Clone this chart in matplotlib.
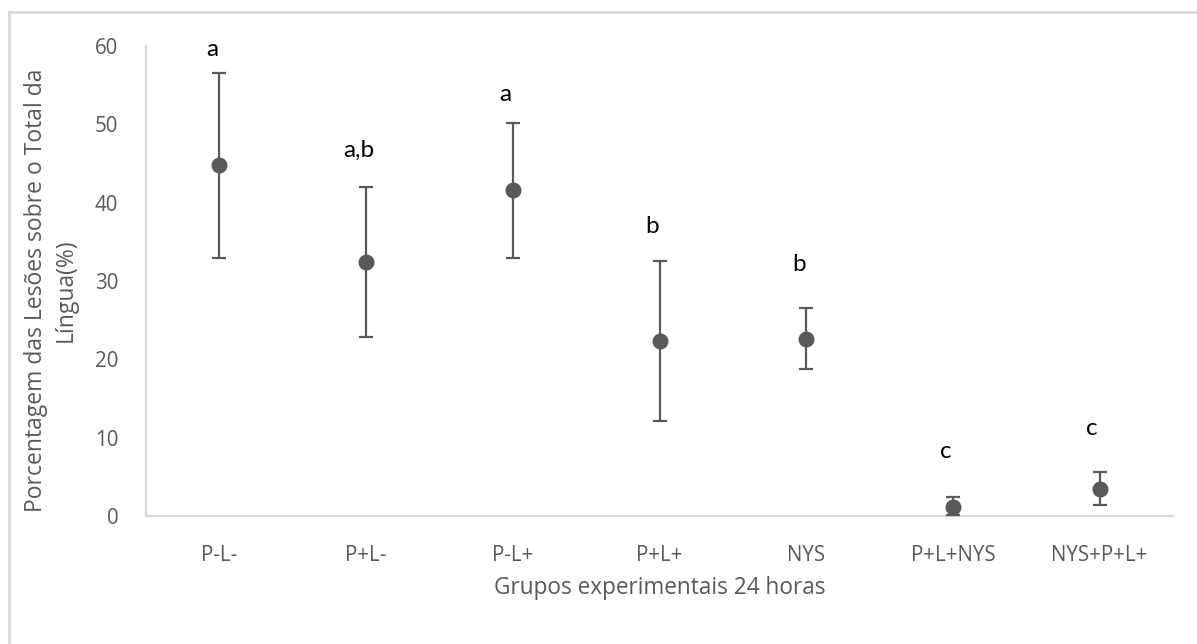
import matplotlib
matplotlib.use("Agg")
import matplotlib.pyplot as plt
from matplotlib.lines import Line2D

groups = ["P-L-", "P+L-", "P-L+", "P+L+", "NYS", "P+L+NYS", "NYS+P+L+"]
means = [44.8, 32.4, 41.6, 22.3, 22.6, 1.2, 3.4]
upper = [56.6, 42.0, 50.2, 32.6, 26.6, 2.4, 5.6]
lower = [32.9, 22.8, 32.9, 12.1, 18.8, 0.1, 1.4]
letters = ["a", "a,b", "a", "b", "b", "c", "c"]
letter_y = [59.5, 46.7, 53.8, 36.9, 32.1, 8.2, 11.2]

dark = "#595959"
light = "#d9d9d9"

fig = plt.figure(figsize=(11.97, 6.44), dpi=100)
ax = fig.add_axes([146/1197, 1 - 516/644, (1173-146)/1197, (516-46)/644])

x = list(range(len(groups)))
yerr = [[m - l for m, l in zip(means, lower)], [u - m for m, u in zip(means, upper)]]
ax.errorbar(x, means, yerr=yerr, fmt="o", color=dark, ecolor=dark,
            markersize=10.5, elinewidth=1.6, capsize=4.8, capthick=1.6, zorder=3)

for xi, t, ty in zip(x, letters, letter_y):
    ax.text(xi - 0.05, ty, t, ha="center", va="center", fontsize=17.5,
            family="Lato", color="black")

ax.set_xlim(-0.5, len(groups) - 0.5)
ax.set_ylim(0, 60)
ax.set_yticks(range(0, 61, 10))
ax.set_xticks(x)
ax.set_xticklabels(groups)
for s in ["top", "right"]:
    ax.spines[s].set_visible(False)
for s in ["left", "bottom"]:
    ax.spines[s].set_color(light)
    ax.spines[s].set_linewidth(1.6)
ax.tick_params(length=0, labelcolor=dark, labelsize=14.8)
ax.tick_params(axis="y", pad=20)
ax.tick_params(axis="x", pad=21)
for lab in ax.get_xticklabels() + ax.get_yticklabels():
    lab.set_family("Open Sans")

fig.text(660/1197, 1 - 588/644, "Grupos experimentais 24 horas", ha="center", va="center",
         fontsize=16.3, color=dark, family="Open Sans")
fig.text(51/1197, 1 - 290/644, "Porcentagem das Lesões sobre o Total da\nLíngua(%)",
         ha="center", va="center", rotation=90, fontsize=16.5, color=dark,
         family="Open Sans", multialignment="center", linespacing=1.3)

# outer border (left and top visible)
fig.add_artist(Line2D([9/1197, 9/1197], [0, 1 - 12/644], transform=fig.transFigure,
                      color=light, linewidth=2))
fig.add_artist(Line2D([9/1197, 1], [1 - 12/644, 1 - 12/644], transform=fig.transFigure,
                      color=light, linewidth=2))

fig.savefig("out.png", dpi=100, facecolor="white")
